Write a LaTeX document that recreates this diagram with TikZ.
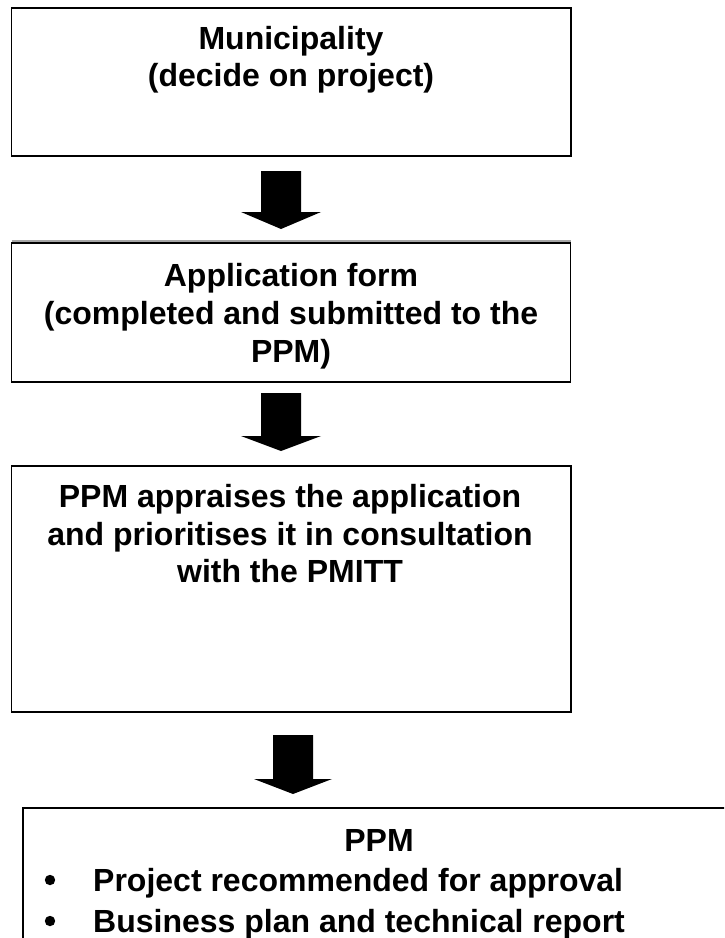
\documentclass[tikz,border=0pt]{standalone}
\usepackage{fontspec}
\setmainfont{Liberation Sans}
\begin{document}
\begin{tikzpicture}[x=1pt,y=-1pt,
  box/.style={draw=black,line width=1.5pt,fill=white},
  txt/.style={anchor=base,inner sep=0pt,font=\fontsize{32}{37}\selectfont\bfseries},
  blockarrow/.style={fill=black}]
\useasboundingbox (0,0) rectangle (724,938);
\begin{scope}
\clip (0,0) rectangle (724,938);
% boxes
\draw[box] (11.5,8) rectangle (571,156);
\draw[gray!70,line width=1.3pt] (11.5,241) -- (570.5,241);
\draw[box] (11.5,243) rectangle (570.5,382);
\draw[box] (11.5,466) rectangle (571,712);
\draw[box] (23,808) rectangle (735,960);
% block arrows
\fill[blockarrow] (261,171) -- (301,171) -- (301,212) -- (321,212) -- (281,229) -- (241,212) -- (261,212) -- cycle;
\fill[blockarrow] (261,393) -- (301,393) -- (301,436) -- (321,436) -- (281,451) -- (241,436) -- (261,436) -- cycle;
\fill[blockarrow] (273,735) -- (313,735) -- (313,779) -- (332,779) -- (293,794) -- (254,779) -- (273,779) -- cycle;
% texts
\node[txt] (t1a) at (291,49) {Municipality};
\node[txt] (t1b) at (291,86) {(decide on project)};
\node[txt] (t2a) at (291,286) {Application form};
\node[txt] (t2b) at (291,324) {(completed and submitted to the};
\node[txt] (t2c) at (291,362) {PPM)};
\node[txt] (t3a) at (290,507) {PPM appraises the application};
\node[txt] (t3b) at (290,545) {and prioritises it in consultation};
\node[txt] (t3c) at (290,582) {with the PMITT};
\node[txt] (t4a) at (379,851) {PPM};
\node[txt,anchor=base west] (t4b) at (93,891) {Project recommended for approval};
\node[txt,anchor=base west] (t4c) at (93,932) {Business plan and technical report};
\fill (50,880) circle (5.2) coordinate (d1);
\fill (50,921) circle (5.2) coordinate (d2);
\end{scope}
\end{tikzpicture}
\end{document}
